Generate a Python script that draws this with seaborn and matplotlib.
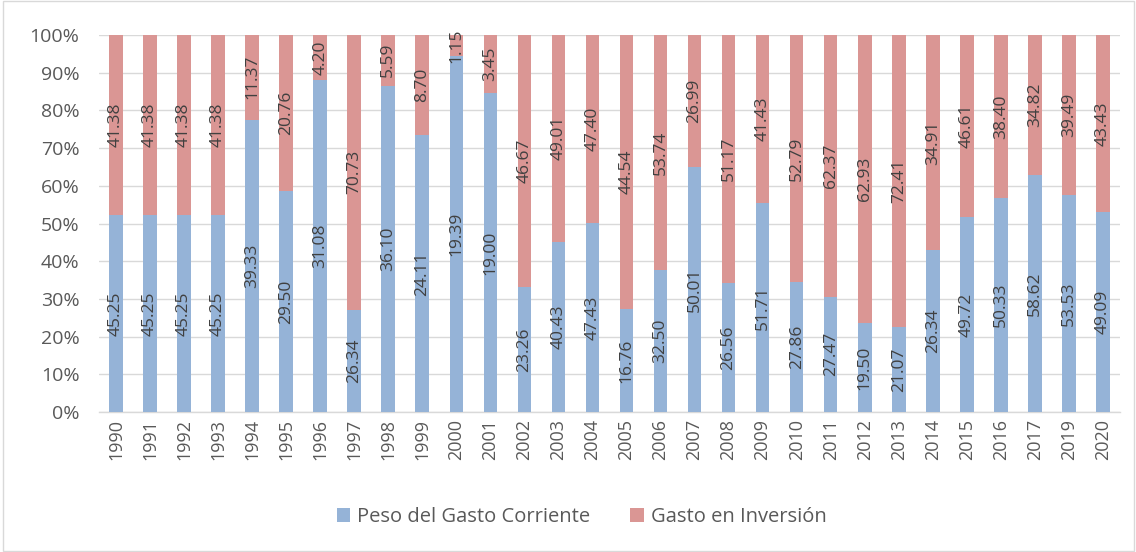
import numpy as np
import pandas as pd
import matplotlib
matplotlib.use("Agg")
import matplotlib.pyplot as plt
import seaborn as sns
from matplotlib.patches import Rectangle, Patch

years = ["1990", "1991", "1992", "1993", "1994", "1995", "1996", "1997", "1998", "1999",
         "2000", "2001", "2002", "2003", "2004", "2005", "2006", "2007", "2008", "2009",
         "2010", "2011", "2012", "2013", "2014", "2015", "2016", "2017", "2019", "2020"]
corriente = [45.25, 45.25, 45.25, 45.25, 39.33, 29.50, 31.08, 26.34, 36.10, 24.11,
             19.39, 19.00, 23.26, 40.43, 47.43, 16.76, 32.50, 50.01, 26.56, 51.71,
             27.86, 27.47, 19.50, 21.07, 26.34, 49.72, 50.33, 58.62, 53.53, 49.09]
inversion = [41.38, 41.38, 41.38, 41.38, 11.37, 20.76, 4.20, 70.73, 5.59, 8.70,
             1.15, 3.45, 46.67, 49.01, 47.40, 44.54, 53.74, 26.99, 51.17, 41.43,
             52.79, 62.37, 62.93, 72.41, 34.91, 46.61, 38.40, 34.82, 39.49, 43.43]
series_names = ["Peso del Gasto Corriente", "Gasto en Inversión"]

BLUE = "#95B3D7"
RED = "#DA9694"
TXT = "#404040"
TICK = "#595959"

df = pd.DataFrame({"year": years, "corriente": corriente, "inversion": inversion})
df["total"] = df["corriente"] + df["inversion"]
df["pct_c"] = df["corriente"] / df["total"] * 100
df["full"] = 100.0

sns.set_theme(style="white")
plt.rcParams["font.family"] = ["Open Sans", "DejaVu Sans"]

fig = plt.figure(figsize=(11.36, 5.52), dpi=100)
ax = fig.add_axes([0.0871, 0.2536, 0.8988, 0.683])

sns.barplot(data=df, x="year", y="full", color=RED, saturation=1, width=0.4,
            ax=ax, order=years, errorbar=None, zorder=2)
sns.barplot(data=df, x="year", y="pct_c", color=BLUE, saturation=1, width=0.4,
            ax=ax, order=years, errorbar=None, zorder=3)

for p in ax.patches:
    p.set_edgecolor("none")

for i, row in df.iterrows():
    pc = row["pct_c"]
    ax.text(i, pc / 2, f"{row['corriente']:.2f}", rotation=90, ha="center", va="center",
            fontsize=12.5, color=TXT, zorder=5)
    ax.text(i, pc + (100 - pc) / 2, f"{row['inversion']:.2f}", rotation=90, ha="center",
            va="center", fontsize=12.5, color=TXT, zorder=5, clip_on=False)

ax.set_ylim(0, 100)
ax.set_xlim(-0.5, len(years) - 0.5)
ax.set_yticks(np.arange(0, 101, 10))
ax.set_yticklabels([f"{v}%" for v in range(0, 101, 10)], fontsize=14, color=TICK)
ax.set_xticks(range(len(years)))
ax.set_xticklabels(years, rotation=90, fontsize=13, color=TICK)
ax.tick_params(axis="y", length=0, pad=14)
ax.tick_params(axis="x", length=0, pad=5)
ax.set_xlabel("")
ax.set_ylabel("")
ax.grid(axis="y", color="#D9D9D9", linewidth=1.0, zorder=0)
ax.set_axisbelow(True)
for s in ["top", "right", "left"]:
    ax.spines[s].set_visible(False)
ax.spines["bottom"].set_color("#D9D9D9")
ax.spines["bottom"].set_linewidth(1.0)

handles = [Patch(facecolor=BLUE, edgecolor="none"), Patch(facecolor=RED, edgecolor="none")]
fig.legend(handles, series_names, loc="center", bbox_to_anchor=(0.512, 0.0634), ncol=2,
           frameon=False, fontsize=14.5, handlelength=0.65, handleheight=0.65,
           handletextpad=0.35, columnspacing=2.0, labelcolor=TICK)

fig.patches.append(Rectangle((0.003, 0.002), 0.995, 0.996, transform=fig.transFigure,
                             fill=False, edgecolor="#D9D9D9", linewidth=1.0))

fig.savefig("out.png", dpi=100, facecolor="white")
